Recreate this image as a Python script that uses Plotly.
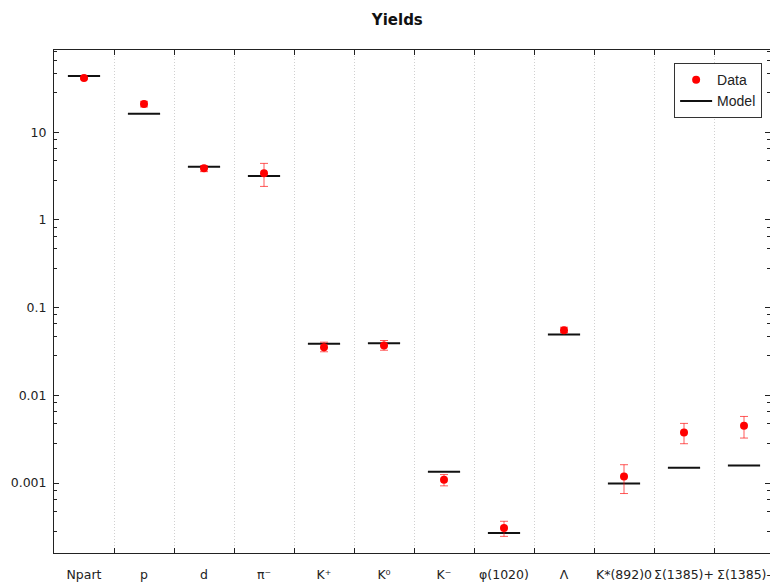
import plotly.graph_objects as go

categories = ["Npart", "p", "d", "π⁻", "K⁺", "K⁰", "K⁻", "φ(1020)", "Λ",
              "K*(892)0", "Σ(1385)+", "Σ(1385)-"]
data_vals = [41.4, 20.9, 3.87, 3.40, 0.0354, 0.0370, 0.00109, 3.07e-4, 0.0553,
             0.00119, 0.00378, 0.00451]
err_plus = [1.0, 1.6, 0.28, 1.01, 0.0050, 0.0052, 0.00016, 0.60e-4, 0.0045,
            0.00043, 0.00101, 0.00124]
err_minus = [1.0, 1.5, 0.32, 0.99, 0.0040, 0.0043, 0.00016, 0.60e-4, 0.0033,
             0.00043, 0.00097, 0.00125]
model_vals = [43.6, 16.2, 4.05, 3.17, 0.0387, 0.0393, 0.00135, 2.70e-4, 0.0494,
              0.00099, 0.00150, 0.00159]

y_major = [0.001, 0.01, 0.1, 1, 10]
y_major_text = ["0.001", "0.01", "0.1", "1", "10"]
minor_mult = [2.83, 4.72, 6.55, 8.3]
y_minor = [m * 10.0 ** e for e in range(-4, 2) for m in minor_mult]

fig = go.Figure()
fig.add_trace(go.Scatter(
    x=categories, y=model_vals, mode="markers", showlegend=False,
    marker=dict(symbol="line-ew", size=23, color="black",
                line=dict(color="#111", width=2)),
    hoverinfo="skip"))
fig.add_trace(go.Scatter(
    x=categories, y=data_vals, mode="markers", name="Data",
    marker=dict(color="red", size=8),
    error_y=dict(type="data", symmetric=False, array=err_plus,
                 arrayminus=err_minus, color="rgba(255,0,0,0.65)",
                 thickness=1, width=4)))
fig.add_trace(go.Scatter(
    x=[None], y=[None], mode="lines", name="Model",
    line=dict(color="#111", width=2)))

axis_font = dict(family="DejaVu Sans", size=12.5, color="#222")
fig.update_layout(
    width=770, height=582,
    margin=dict(l=54, r=0, t=50, b=29, pad=0, autoexpand=False),
    paper_bgcolor="white", plot_bgcolor="white",
    title=dict(text="<b>Yields</b>", x=0.516, xanchor="center",
               y=1 - 20 / 582, yanchor="middle",
               font=dict(family="DejaVu Sans", size=15, color="#111")),
    legend=dict(x=0.989, xanchor="right", y=0.974, yanchor="top",
                bgcolor="white", bordercolor="#333", borderwidth=1,
                font=dict(family="Liberation Sans", size=14, color="#222"),
                itemwidth=32, tracegroupgap=0),
    showlegend=True,
)
fig.update_xaxes(
    type="category", range=[-0.5, 11.4333], automargin=False, tickangle=0,
    tickson="boundaries", ticks="inside", ticklen=5, tickcolor="#222",
    showline=True, linecolor="#222", linewidth=1, mirror="allticks",
    showgrid=True, gridcolor="#d0d0d0", griddash="1px,2px", gridwidth=1,
    tickfont=axis_font, ticklabelstandoff=10, zeroline=False,
)
fig.update_yaxes(
    type="log", range=[-3.797, 1.937], automargin=False,
    tickvals=y_major, ticktext=y_major_text,
    ticks="inside", ticklen=5, tickcolor="#222",
    showline=True, linecolor="#222", linewidth=1, mirror="allticks",
    showgrid=False, zeroline=False,
    tickfont=axis_font, ticklabelstandoff=4,
    minor=dict(tickvals=y_minor, ticks="inside", ticklen=3,
               tickcolor="#222", showgrid=False),
)
fig.write_html("out.html")
